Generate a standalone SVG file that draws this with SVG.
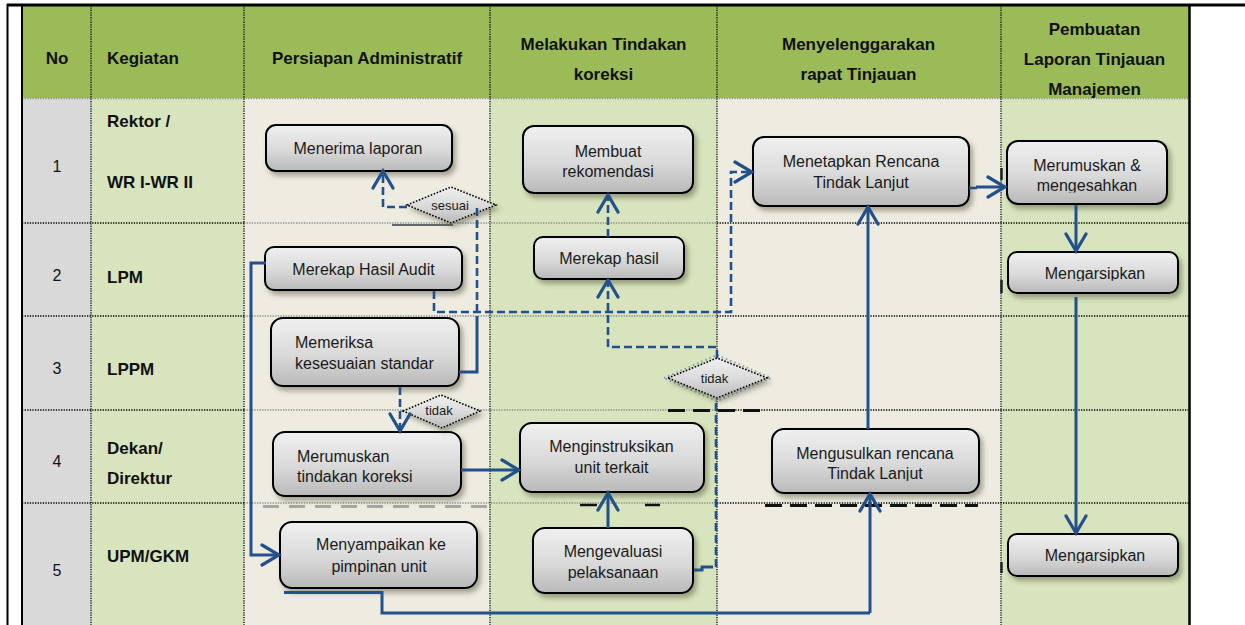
<svg xmlns="http://www.w3.org/2000/svg" width="1245" height="625" viewBox="0 0 1245 625">
<style>
.hd{font-family:"Liberation Sans",Arial,sans-serif;font-weight:bold;font-size:17px;fill:#111}
.num{font-family:"Liberation Sans",Arial,sans-serif;font-size:16px;fill:#111;text-anchor:middle}
.nt{font-family:"Liberation Sans",Arial,sans-serif;font-size:16px;fill:#1a1a1a}
.c{text-anchor:middle}
.dt{font-family:"Liberation Sans",Arial,sans-serif;font-size:13px;fill:#1a1a1a;text-anchor:middle}
.box{fill:url(#ng);stroke:#000;stroke-width:2;filter:url(#sh)}
.dia{fill:url(#ng);stroke:#000;stroke-width:1.6;stroke-dasharray:1.6 1.6;filter:url(#sh)}
.vd{stroke:#000;stroke-width:1.3;stroke-dasharray:1.2 1.2;fill:none}
.hb{stroke:#000;stroke-width:1.6;stroke-dasharray:1.3 1.3;fill:none}
.hg{stroke:#8a8a8a;stroke-width:1.6;stroke-dasharray:1.3 1.3;fill:none}
.sol{fill:none;stroke:#22508A;stroke-width:3;marker-end:url(#ah)}
.solp{fill:none;stroke:#22508A;stroke-width:3}
.dsh{fill:none;stroke:#22508A;stroke-width:2.6;stroke-dasharray:8 4;marker-end:url(#ah)}
.dshp{fill:none;stroke:#22508A;stroke-width:2.6;stroke-dasharray:8 4}
.art{stroke:#111;stroke-width:3;stroke-dasharray:17 8;fill:none}
</style>
<defs>
<linearGradient id="ng" x1="0" y1="0" x2="0" y2="1">
<stop offset="0" stop-color="#F0F0F0"/>
<stop offset="0.55" stop-color="#D9D9D9"/>
<stop offset="1" stop-color="#B9B9B9"/>
</linearGradient>
<filter id="sh" x="-10%" y="-15%" width="125%" height="150%">
<feDropShadow dx="3" dy="4" stdDeviation="2.5" flood-color="#4a4a30" flood-opacity="0.45"/>
</filter>
<marker id="ah" viewBox="0 0 24 24" refX="21" refY="12" markerWidth="24" markerHeight="24" markerUnits="userSpaceOnUse" orient="auto">
<path d="M4,2 L21,12 L4,22" fill="none" stroke="#22508A" stroke-width="3.2" stroke-linecap="round"/>
</marker>
<clipPath id="c4"><rect x="1000" y="130" width="180" height="62.5"/></clipPath>
<clipPath id="c10"><rect x="770" y="425" width="212" height="55.7"/></clipPath>
<clipPath id="c11"><rect x="1000" y="250" width="180" height="30.7"/></clipPath>
<clipPath id="c14"><rect x="1000" y="530" width="180" height="32.7"/></clipPath>
</defs>

<g id="table">
<rect x="0" y="0" width="1245" height="625" fill="#fff"/>
<rect x="22" y="5" width="1167" height="93" fill="#9BBB59"/>
<rect x="22" y="98" width="69" height="527" fill="#D9D9D9"/>
<rect x="91" y="98" width="153" height="527" fill="#D7E4BD"/>
<rect x="244" y="98" width="246" height="527" fill="#EEECE1"/>
<rect x="490" y="98" width="227" height="527" fill="#D7E4BD"/>
<rect x="717" y="98" width="284" height="527" fill="#EEECE1"/>
<rect x="1001" y="98" width="188" height="527" fill="#D7E4BD"/>
<line class="hg" x1="22" y1="98.5" x2="1189" y2="98.5"/>
<path class="hb" d="M22 223H244M22 316H244M22 410H244M22 503H244"/>
<path class="hg" d="M244 223H717M244 316H717M244 410H717M244 503H717"/>
<path class="hb" d="M717 223H1189M717 316H1189M717 410H1189M717 503H1189"/>
<path class="vd" d="M91 5V625M244 5V625M490 5V625M717 5V625M1001 5V625"/>
<path class="art" d="M668 410.5H768"/>
<path class="art" d="M765 505.5H978"/>
<path d="M580 505H597M645 505H660" stroke="#111" stroke-width="2.5" fill="none"/>
<path d="M263 506.5H490" stroke="#555" stroke-width="3" stroke-dasharray="16 10" opacity="0.45" fill="none"/>
<path d="M392 225H453" stroke="#666" stroke-width="2" fill="none"/>
<path d="M1001.5 168V180M1001.5 280V293M1001.5 562V573" stroke="#222" stroke-width="2.5" fill="none"/>
<line x1="7.5" y1="4" x2="7.5" y2="625" stroke="#000" stroke-width="2"/>
<line x1="7" y1="5" x2="1245" y2="5" stroke="#000" stroke-width="3"/>
<line x1="22" y1="5" x2="22" y2="625" stroke="#000" stroke-width="2"/>
<line x1="1189.5" y1="5" x2="1189.5" y2="625" stroke="#000" stroke-width="2.5"/>
</g>

<g id="header">
<text class="hd" x="57" y="63.5" text-anchor="middle">No</text>
<text class="hd" x="107" y="63.5">Kegiatan</text>
<text class="hd" x="367" y="63.5" text-anchor="middle">Persiapan Administratif</text>
<text class="hd" x="603.5" y="49.5" text-anchor="middle">Melakukan Tindakan</text>
<text class="hd" x="603.5" y="80" text-anchor="middle">koreksi</text>
<text class="hd" x="858.5" y="49.5" text-anchor="middle">Menyelenggarakan</text>
<text class="hd" x="858.5" y="80" text-anchor="middle">rapat Tinjauan</text>
<text class="hd" x="1094.5" y="34.5" text-anchor="middle">Pembuatan</text>
<text class="hd" x="1094.5" y="64.5" text-anchor="middle">Laporan Tinjauan</text>
<text class="hd" x="1094.5" y="94.5" text-anchor="middle">Manajemen</text>
</g>

<g id="rows">
<text class="num" x="57" y="172">1</text>
<text class="num" x="57" y="281">2</text>
<text class="num" x="57" y="373.5">3</text>
<text class="num" x="57" y="467">4</text>
<text class="num" x="57" y="576">5</text>
<text class="hd" x="107" y="127">Rektor /</text>
<text class="hd" x="107" y="188">WR I-WR II</text>
<text class="hd" x="107" y="282.5">LPM</text>
<text class="hd" x="107" y="375">LPPM</text>
<text class="hd" x="107" y="453.5">Dekan/</text>
<text class="hd" x="107" y="484">Direktur</text>
<text class="hd" x="107" y="562">UPM/GKM</text>
</g>

<g id="n1"><rect class="box" x="266" y="125" width="186" height="46" rx="10"/><text class="nt c" x="358" y="154">Menerima laporan</text></g>
<g id="n2"><rect class="box" x="523" y="126" width="170" height="67" rx="11"/><text class="nt c" x="608" y="157">Membuat</text><text class="nt c" x="608" y="177">rekomendasi</text></g>
<g id="n3"><rect class="box" x="753" y="137" width="216" height="69" rx="11"/><text class="nt c" x="861" y="167">Menetapkan Rencana</text><text class="nt c" x="861" y="188">Tindak Lanjut</text></g>
<g id="n4"><rect class="box" x="1007" y="141" width="160" height="63" rx="11"/><g clip-path="url(#c4)"><text class="nt c" x="1087" y="171">Merumuskan &amp;</text><text class="nt c" x="1087" y="191">mengesahkan</text></g></g>
<g id="n5"><rect class="box" x="265" y="247" width="197" height="43" rx="9"/><text class="nt c" x="363.5" y="275">Merekap Hasil Audit</text></g>
<g id="n6"><rect class="box" x="534" y="237" width="150" height="42" rx="9"/><text class="nt c" x="609" y="264">Merekap hasil</text></g>
<g id="n7"><rect class="box" x="271" y="318" width="188" height="68" rx="12"/><text class="nt" x="295" y="348">Memeriksa</text><text class="nt" x="295" y="368.5">kesesuaian standar</text></g>
<g id="n8"><rect class="box" x="273" y="432" width="188" height="64" rx="12"/><text class="nt" x="297" y="462">Merumuskan</text><text class="nt" x="297" y="482">tindakan koreksi</text></g>
<g id="n9"><rect class="box" x="520" y="423" width="184" height="69" rx="12"/><text class="nt c" x="611.5" y="452">Menginstruksikan</text><text class="nt c" x="611.5" y="473">unit terkait</text></g>
<g id="n10"><rect class="box" x="772" y="429" width="207" height="64" rx="12"/><g clip-path="url(#c10)"><text class="nt c" x="875" y="458.5">Mengusulkan rencana</text><text class="nt c" x="875" y="479">Tindak Lanjut</text></g></g>
<g id="n11"><rect class="box" x="1008" y="252" width="170" height="41" rx="9"/><g clip-path="url(#c11)"><text class="nt c" x="1095" y="279">Mengarsipkan</text></g></g>
<g id="n12"><rect class="box" x="280" y="522" width="197" height="66" rx="12"/><text class="nt c" x="381" y="550">Menyampaikan ke</text><text class="nt c" x="379" y="572">pimpinan unit</text></g>
<g id="n13"><rect class="box" x="533" y="528" width="160" height="65" rx="12"/><text class="nt c" x="613" y="557">Mengevaluasi</text><text class="nt c" x="613" y="578">pelaksanaan</text></g>
<g id="n14"><rect class="box" x="1008" y="534" width="170" height="42" rx="9"/><g clip-path="url(#c14)"><text class="nt c" x="1095" y="561">Mengarsipkan</text></g></g>

<g id="d1"><polygon class="dia" points="407,205 451,187 496,205 451,223"/><text class="dt" x="450" y="210">sesuai</text></g>
<g id="d2"><polygon class="dia" points="403,411 441,395 480,411 442,428"/><text class="dt" x="439" y="415">tidak</text></g>
<g id="d3"><polygon points="664,378 717,355 771,378 717,401" fill="none" stroke="#5b7fb0" stroke-width="2" stroke-dasharray="1.5 3" opacity="0.7"/><polygon class="dia" points="668,378 717,358 767,378 717,398"/><text class="dt" x="714.5" y="383">tidak</text></g>

<g id="connectors">
<path class="dsh" d="M407 207H383V171"/>
<path class="dshp" d="M477 208V316"/>
<path class="solp" d="M459 372H477V316"/>
<path class="dsh" d="M434 291V312H731V172H752"/>
<path class="dsh" d="M717 358V347H608V280"/>
<path class="dsh" d="M608 237V195"/>
<path class="solp" d="M694 570H702V567H713" stroke-width="2.5"/>
<path class="dshp" d="M716 567V399"/>
<path class="dsh" d="M400 387V431"/>
<path class="sol" d="M461 470H519"/>
<path class="sol" d="M608 528V493"/>
<path class="sol" d="M266 263H251V555H279"/>
<path class="solp" d="M284 592.5H382V613H870"/>
<path class="sol" d="M870 613V494"/>
<path class="sol" d="M868 429V207"/>
<path class="dshp" d="M969 188H977" stroke-dasharray="3 3"/>
<path class="sol" d="M976 187H1005"/>
<path class="sol" d="M1076 205V251"/>
<path class="sol" d="M1076 297V533"/>
</g>
</svg>
